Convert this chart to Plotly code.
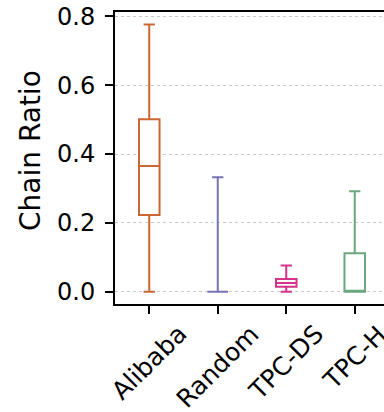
import plotly.graph_objects as go

categories = ["Alibaba", "Random", "TPC-DS", "TPC-H"]
q1 = [0.223, 0.0, 0.014, 0.0]
median = [0.365, 0.0, 0.025, 0.0]
q3 = [0.501, 0.0, 0.037, 0.112]
lowerfence = [0.0, 0.0, 0.0, 0.0]
upperfence = [0.777, 0.333, 0.076, 0.292]
colors = ["#cc6633", "#7773b8", "#d4358a", "#6aa67e"]
y_ticks = [0.0, 0.2, 0.4, 0.6, 0.8]

FONT = "DejaVu Sans"

fig = go.Figure()
for i, cat in enumerate(categories):
    fig.add_trace(go.Box(
        x=[cat], name=cat,
        q1=[q1[i]], median=[median[i]], q3=[q3[i]],
        lowerfence=[lowerfence[i]], upperfence=[upperfence[i]],
        line=dict(color=colors[i], width=2),
        fillcolor="white",
        width=0.3, whiskerwidth=0.55,
        boxpoints=False, showlegend=False, hoverinfo="skip",
    ))

for cat in categories:
    fig.add_annotation(
        x=cat, xref="x", y=0, yref="paper", yshift=-13,
        text=cat, textangle=-45, showarrow=False,
        xanchor="center", yanchor="top",
        font=dict(family=FONT, size=25, color="black"),
    )

fig.add_annotation(
    x=(31 - 115) / 269, xref="paper", y=0.524, yref="paper",
    text="Chain Ratio", textangle=-90, showarrow=False,
    xanchor="center", yanchor="middle",
    font=dict(family=FONT, size=28, color="black"),
)

fig.update_layout(
    width=384, height=412,
    margin=dict(l=115, r=0, t=12, b=108),
    plot_bgcolor="white", paper_bgcolor="white",
    boxmode="overlay",
    font=dict(family=FONT, color="black"),
    xaxis=dict(
        type="category", categoryorder="array", categoryarray=categories,
        range=[-0.5, 3.427],
        showline=True, linewidth=2, linecolor="black", mirror=True,
        ticks="outside", ticklen=8, tickwidth=2, tickcolor="black",
        showticklabels=False, showgrid=False, zeroline=False,
    ),
    yaxis=dict(
        range=[-0.0358, 0.813],
        tickvals=y_ticks, tickformat=".1f",
        showline=True, linewidth=2, linecolor="black", mirror=False,
        ticks="outside", ticklen=8, tickwidth=2, tickcolor="black",
        ticklabelstandoff=5,
        tickfont=dict(family=FONT, size=24, color="black"),
        showgrid=True, gridcolor="#c8c8c8", griddash="dot", gridwidth=1,
        zeroline=False,
    ),
)

fig.write_html("out.html")
